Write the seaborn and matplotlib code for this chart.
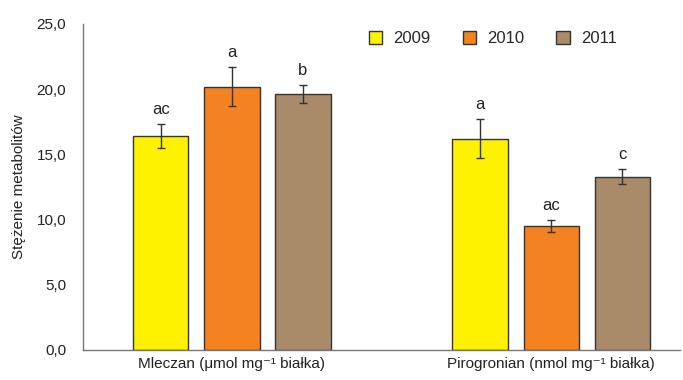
import numpy as np
import pandas as pd
import seaborn as sns
import matplotlib.pyplot as plt

categories = ['Mleczan (μmol mg⁻¹ białka)', 'Pirogronian (nmol mg⁻¹ białka)']
years = ['2009', '2010', '2011']
mleczan = [16.4, 20.2, 19.6]
pirogronian = [16.2, 9.5, 13.3]
mleczan_err = [0.95, 1.5, 0.7]
pirogronian_err = [1.5, 0.45, 0.6]
mleczan_letters = ['ac', 'a', 'b']
pirogronian_letters = ['a', 'ac', 'c']
colors = ['#FFF200', '#F58220', '#A98B6A']

df = pd.DataFrame({
    'cat': [categories[0]] * 3 + [categories[1]] * 3,
    'year': years * 2,
    'val': mleczan + pirogronian,
    'err': mleczan_err + pirogronian_err,
    'letter': mleczan_letters + pirogronian_letters,
})

sns.set_style('white')
plt.rcParams['font.family'] = ['Liberation Sans', 'DejaVu Sans']

fig = plt.figure(figsize=(6.83, 3.80), dpi=100)
ax = fig.add_axes([0.1215, 0.079, 0.874, 0.858])

sns.barplot(data=df, x='cat', y='val', hue='year', palette=colors, saturation=1,
            width=0.668, gap=0.225, edgecolor='#333333', linewidth=1.0,
            errorbar=None, ax=ax)

# error bars and letters, taken from the drawn bars
bar_groups = list(ax.containers)
for i, cont in enumerate(bar_groups):
    for j, bar in enumerate(cont):
        row = df[(df['cat'] == categories[j]) & (df['year'] == years[i])].iloc[0]
        xc = bar.get_x() + bar.get_width() / 2
        ax.errorbar(xc, row['val'], yerr=row['err'], fmt='none',
                    ecolor='#333333', elinewidth=1.0, capsize=3, capthick=1.0)
        ax.annotate(row['letter'], (xc, row['val'] + row['err']),
                    xytext=(0, 5), textcoords='offset points',
                    ha='center', va='bottom', fontsize=12, color='#222222')

ax.set_ylim(0, 25)
ax.set_xlim(-0.467, 1.404)
ax.set_yticks(np.arange(0, 25.1, 5))
ax.set_yticklabels([f'{v:.1f}'.replace('.', ',') for v in np.arange(0, 25.1, 5)])
ax.tick_params(axis='both', length=0, labelsize=11, colors='#222222', pad=12)
ax.tick_params(axis='x', pad=5)
ax.set_xlabel('')
ax.set_ylabel('Stężenie metabolitów', fontsize=11, color='#222222', labelpad=8)

for s in ['top', 'right']:
    ax.spines[s].set_visible(False)
for s in ['left', 'bottom']:
    ax.spines[s].set_color('#777777')
    ax.spines[s].set_linewidth(1.0)

ax.legend(loc='upper right', bbox_to_anchor=(0.92, 1.025), ncol=3, frameon=False,
          fontsize=12, handlelength=0.8, handleheight=0.8, handletextpad=0.7,
          columnspacing=1.9)

fig.savefig('out.png', dpi=100)
